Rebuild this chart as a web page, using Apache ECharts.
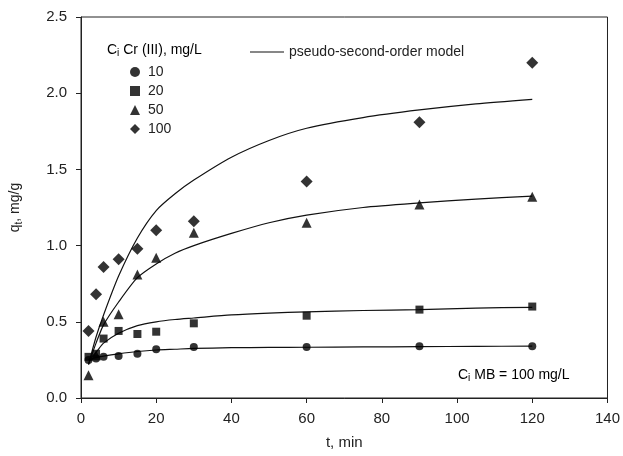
<!DOCTYPE html>
<html>
<head>
<meta charset="UTF-8">
<title>q_t vs t</title>
<script src="https://cdn.jsdelivr.net/npm/echarts@6/dist/echarts.min.js"></script>
<style>
  html, body { margin: 0; padding: 0; background: #fff; }
  #chart { width: 623px; height: 456px; }
</style>
</head>
<body>
<div id="chart"></div>
<script>
// time points of the measurements, min
var times = [2, 4, 6, 10, 15, 20, 30, 60, 90, 120];

// measured q_t (mg/g) for each initial Cr(III) concentration
var q10  = [0.25, 0.26, 0.27, 0.275, 0.29, 0.32, 0.335, 0.335, 0.34, 0.34];
var q20  = [0.27, 0.29, 0.39, 0.44, 0.42, 0.435, 0.49, 0.54, 0.58, 0.60];
var q50  = [0.15, 0.28, 0.50, 0.55, 0.81, 0.92, 1.085, 1.15, 1.27, 1.32];
var q100 = [0.44, 0.68, 0.86, 0.91, 0.98, 1.10, 1.16, 1.42, 1.81, 2.20];

// pseudo-second-order fitted curves
var modelTimes = [2, 4, 6, 10, 15, 20, 25, 30, 40, 50, 60, 75, 90, 105, 120];
var m10  = [0.25, 0.265, 0.275, 0.29, 0.305, 0.315, 0.32, 0.325, 0.33, 0.332, 0.333, 0.335, 0.337, 0.339, 0.34];
var m20  = [0.25, 0.30, 0.36, 0.425, 0.475, 0.50, 0.515, 0.525, 0.545, 0.557, 0.565, 0.574, 0.58, 0.59, 0.595];
var m50  = [0.22, 0.36, 0.48, 0.63, 0.79, 0.88, 0.95, 1.00, 1.08, 1.15, 1.20, 1.25, 1.28, 1.305, 1.325];
var m100 = [0.22, 0.40, 0.545, 0.80, 1.05, 1.23, 1.34, 1.43, 1.58, 1.69, 1.77, 1.84, 1.89, 1.93, 1.96];

var xTicks = { min: 0, max: 140, interval: 20 };
var yTicks = { min: 0, max: 2.5, interval: 0.5 };

function pairs(xs, ys) {
  return xs.map(function (x, i) { return [x, ys[i]]; });
}

var FONT = 'Liberation Sans, Arial, sans-serif';
var TXT = '#222';
var modelName = 'pseudo-second-order model';

function scatter(name, data, symbol, size) {
  return {
    name: name, type: 'scatter', data: pairs(times, data),
    symbol: symbol, symbolSize: size, z: 3,
    itemStyle: { color: '#000' }
  };
}
function model(data) {
  return {
    name: modelName, type: 'line', data: pairs(modelTimes, data),
    showSymbol: false, symbol: 'none', smooth: 0.25,
    lineStyle: { color: '#111', width: 1.2 }, itemStyle: { color: '#111' },
    z: 2, silent: true
  };
}

var subRich = {
  a: { fontSize: 14, fontFamily: FONT, color: TXT },
  s: { fontSize: 10, fontFamily: FONT, color: TXT, padding: [7, 0, 0, 0] }
};

var chart = echarts.init(document.getElementById('chart'));
chart.setOption({
  animation: false,
  backgroundColor: '#fff',
  grid: { left: 81, right: 14, top: 17, bottom: 58, show: true, borderColor: '#222', borderWidth: 1 },
  xAxis: {
    type: 'value', min: xTicks.min, max: xTicks.max, interval: xTicks.interval,
    name: 't, min', nameLocation: 'middle', nameGap: 37,
    nameTextStyle: { fontSize: 15, fontFamily: FONT, color: TXT },
    axisLine: { lineStyle: { color: '#222' } },
    axisTick: { inside: false, length: 5, lineStyle: { color: '#222' } },
    axisLabel: { fontSize: 15, fontFamily: FONT, color: TXT, margin: 13 },
    splitLine: { show: false }
  },
  yAxis: {
    type: 'value', min: yTicks.min, max: yTicks.max, interval: yTicks.interval,
    name: '{a|q}{s|t}{a|, mg/g}', nameLocation: 'middle', nameGap: 57,
    nameTextStyle: { rich: subRich },
    axisLine: { lineStyle: { color: '#222' } },
    axisTick: { inside: false, length: 5, lineStyle: { color: '#222' } },
    axisLabel: { fontSize: 15, fontFamily: FONT, color: TXT, margin: 14,
      formatter: function (v) { return v.toFixed(1); } },
    splitLine: { show: false }
  },
  legend: [
    {
      data: ['10', '20', '50', '100'], orient: 'vertical',
      left: 125, top: 60, itemWidth: 10, itemHeight: 10, itemGap: 5,
      textStyle: { fontSize: 14, fontFamily: FONT, color: TXT, padding: [0, 0, 0, 3] },
      selectedMode: false
    },
    {
      data: [{ name: modelName, icon: 'rect' }],
      left: 245, top: 40, itemWidth: 34, itemHeight: 1.2,
      itemStyle: { color: '#111' },
      textStyle: { fontSize: 14, fontFamily: FONT, color: TXT, padding: [0, 0, 0, 0] },
      selectedMode: false
    }
  ],
  graphic: [
    {
      type: 'text', left: 107, top: 43,
      style: { text: '{a|C}{s|i}{a| Cr (III), mg/L}', rich: subRich }
    },
    {
      type: 'text', left: 458, top: 368,
      style: { text: '{a|C}{s|i}{a| MB = 100 mg/L}', rich: subRich }
    }
  ],
  series: [
    scatter('10', q10, 'circle', 8),
    scatter('20', q20, 'rect', 8),
    scatter('50', q50, 'triangle', 10),
    scatter('100', q100, 'diamond', 12),
    model(m10), model(m20), model(m50), model(m100)
  ]
});
</script>
</body>
</html>
